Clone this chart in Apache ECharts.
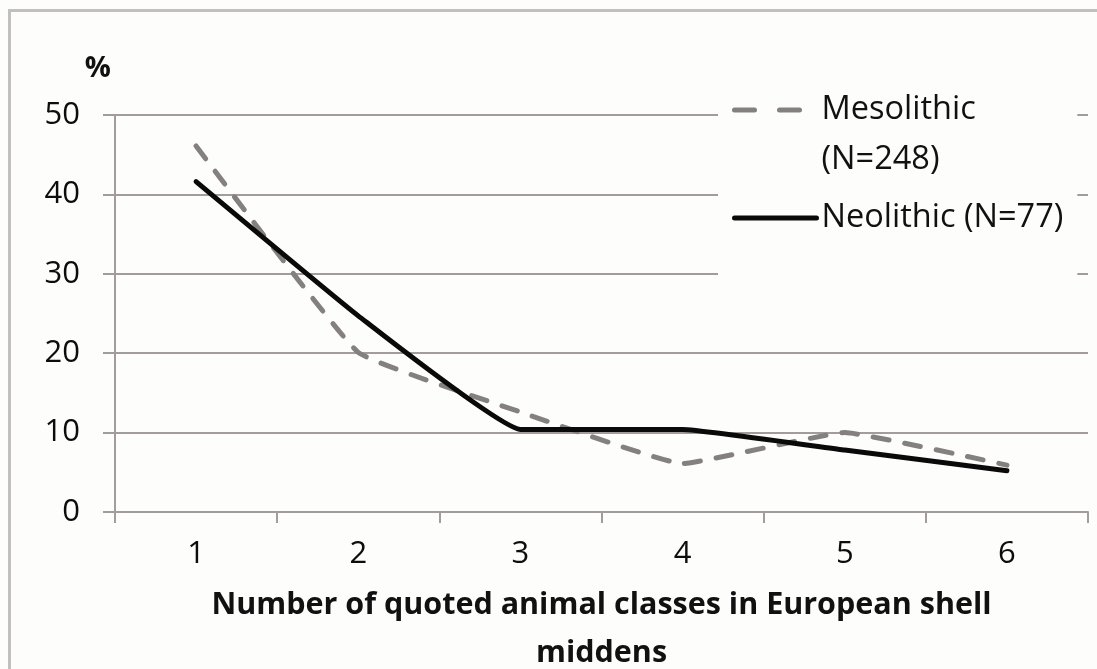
<!DOCTYPE html>
<html>
<head>
<meta charset="utf-8">
<script src="https://cdn.jsdelivr.net/npm/echarts@6/dist/echarts.min.js"></script>
<style>
  html, body { margin: 0; padding: 0; background: #fdfdfc; }
  #frame { position: absolute; left: 8px; top: 9px; width: 1200px; height: 800px;
           border-left: 3px solid #c4bfbf; border-top: 3px solid #c4bfbf; }
  #chart { position: absolute; left: 0; top: 0; width: 1097px; height: 669px; }
</style>
</head>
<body>
<div id="frame"></div>
<div id="chart"></div>
<script>
const categories = ['1', '2', '3', '4', '5', '6'];
const mesolithic = [46.1, 20.1, 12.6, 6.1, 10.0, 5.9];
const neolithic = [41.6, 24.7, 10.4, 10.4, 7.8, 5.2];
const yTicks = [0, 10, 20, 30, 40, 50];
const seriesNames = ['Mesolithic\n(N=248)', 'Neolithic (N=77)'];
const xTitle = 'Number of quoted animal classes in European shell\nmiddens';

const FONT = '"Open Sans", sans-serif';
const GRID = '#a29d9c';

const chart = echarts.init(document.getElementById('chart'), null, { renderer: 'canvas' });
chart.setOption({
  backgroundColor: 'transparent',
  animation: false,
  textStyle: { fontFamily: FONT },
  grid: { left: 115, right: 9, top: 115, bottom: 157, containLabel: false, outerBoundsMode: 'none' },
  legend: {
    orient: 'vertical',
    left: 718,
    top: 30,
    padding: [5, 14, 45, 14],
    backgroundColor: '#fdfdfc',
    itemWidth: 82,
    itemHeight: 14,
    itemGap: 8,
    itemStyle: { opacity: 0 },
    lineStyle: { width: 5 },
    formatter: name => (name === seriesNames[0] ? '\n' + name : name),
    textStyle: { fontFamily: FONT, fontSize: 32.5, color: '#111', lineHeight: 50 },
    data: [
      { name: seriesNames[0], lineStyle: { width: 5, type: [20, 25], cap: 'round', color: '#858080' } },
      { name: seriesNames[1] }
    ]
  },
  xAxis: {
    type: 'category',
    data: categories,
    boundaryGap: true,
    name: xTitle,
    nameLocation: 'middle',
    nameGap: 69,
    nameTextStyle: { fontFamily: FONT, fontWeight: 'bold', fontSize: 30.5, color: '#111', lineHeight: 48 },
    axisLine: { lineStyle: { color: GRID, width: 2 } },
    axisTick: { show: true, alignWithLabel: false, length: 11, lineStyle: { color: GRID, width: 2 } },
    axisLabel: { fontFamily: FONT, fontSize: 31, color: '#0d0d0d', margin: 27 },
    splitLine: { show: false }
  },
  yAxis: {
    type: 'value',
    min: 0,
    max: 50,
    interval: 10,
    name: '%',
    nameLocation: 'end',
    nameGap: 32,
    nameTextStyle: { fontFamily: FONT, fontWeight: 'bold', fontSize: 29, color: '#111', align: 'right', padding: [0, 4, 0, 0] },
    axisLine: { show: true, lineStyle: { color: GRID, width: 2 } },
    axisTick: { show: true, length: 12, lineStyle: { color: GRID, width: 2 } },
    axisLabel: {
      fontFamily: FONT, fontSize: 31, color: '#0d0d0d', margin: 35,
      formatter: v => (yTicks.indexOf(v) >= 0 ? String(v) : '')
    },
    splitLine: { show: true, lineStyle: { color: GRID, width: 2 } }
  },
  series: [
    {
      name: seriesNames[0],
      type: 'line',
      data: mesolithic,
      symbol: 'none',
      smooth: 0.1,
      lineStyle: { color: '#858080', width: 5, type: [16, 16], cap: 'round' },
      itemStyle: { color: '#858080' },
      z: 2
    },
    {
      name: seriesNames[1],
      type: 'line',
      data: neolithic,
      symbol: 'none',
      smooth: 0.1,
      lineStyle: { color: '#0a0a0a', width: 5, cap: 'round' },
      itemStyle: { color: '#0a0a0a' },
      z: 3
    }
  ]
});
</script>
</body>
</html>
